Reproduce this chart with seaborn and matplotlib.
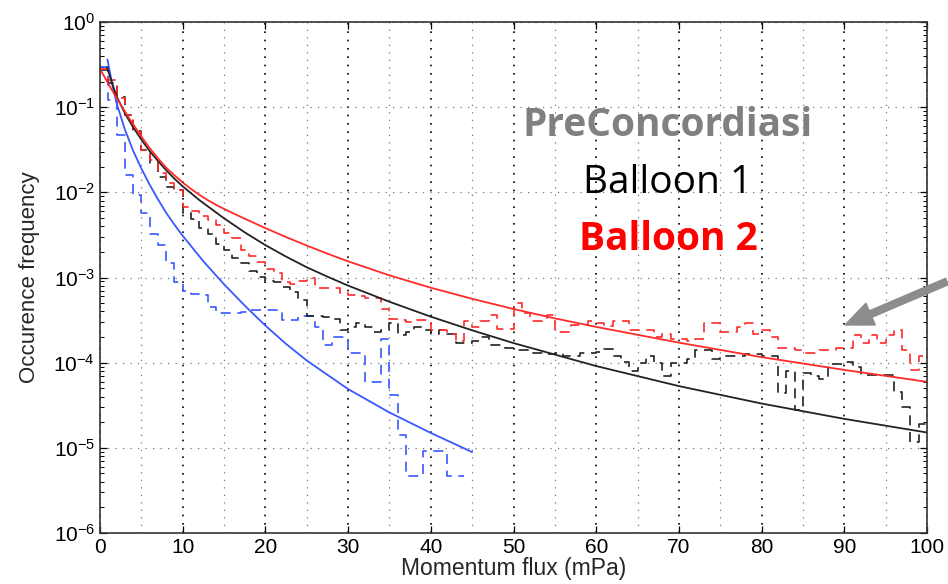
import numpy as np
import pandas as pd
import matplotlib
matplotlib.use("Agg")
import matplotlib.pyplot as plt
import seaborn as sns
from matplotlib.ticker import LogLocator, MultipleLocator, NullFormatter, LogFormatterSciNotation

# ---------------- data ----------------
# histogram bin values, bin width 1 mPa starting at 0
balloon2_hist = [0.28, 0.21, 0.127, 0.081, 0.0515, 0.031, 0.024, 0.0167, 0.013, 0.0106,
                 0.0068, 0.006, 0.0053, 0.0047, 0.0041, 0.0033, 0.0029, 0.0021, 0.0018, 0.00153,
                 0.00125, 0.00112, 0.00089, 0.00085, 0.0009, 0.001, 0.00075, 0.00075, 0.00075, 0.00065,
                 0.00062, 0.0006, 0.00057, 0.00057, 0.00043, 0.00033, 3.2e-4, 3.0e-4, 3.2e-4, 3.2e-4,
                 2.4e-4, 2.4e-4, 2.2e-4, 1.8e-4, 3.1e-4, 2.6e-4, 3.1e-4, 3.6e-4, 2.5e-4, 2.5e-4,
                 5.0e-4, 3.8e-4, 3.1e-4, 3.1e-4, 3.6e-4, 2.3e-4, 2.3e-4, 2.8e-4, 2.8e-4, 3.1e-4,
                 2.9e-4, 2.7e-4, 3.1e-4, 3.1e-4, 2.4e-4, 2.4e-4, 2.4e-4, 2.0e-4, 2.2e-4, 1.9e-4,
                 1.9e-4, 1.8e-4, 1.9e-4, 2.9e-4, 2.9e-4, 2.3e-4, 2.3e-4, 2.6e-4, 2.9e-4, 2.2e-4,
                 2.4e-4, 2.0e-4, 1.5e-4, 1.5e-4, 1.4e-4, 1.3e-4, 1.3e-4, 1.4e-4, 1.4e-4, 1.5e-4,
                 1.5e-4, 2.1e-4, 1.7e-4, 2.1e-4, 1.7e-4, 2.1e-4, 2.4e-4, 1.4e-4, 8.2e-5, 1.2e-4]

balloon1_hist = [0.27, 0.19, 0.13, 0.08, 0.053, 0.031, 0.022, 0.0153, 0.0117, 0.0106,
                 0.0057, 0.0048, 0.0038, 0.0032, 0.0025, 0.0021, 0.0017, 0.00147, 0.0012, 0.00102,
                 9.2e-4, 8.9e-4, 7.8e-4, 6.8e-4, 5.5e-4, 3.5e-4, 3.5e-4, 3.4e-4, 3.3e-4, 2.4e-4,
                 2.6e-4, 2.9e-4, 2.6e-4, 2.3e-4, 2.4e-4, 2.9e-4, 2.1e-4, 2.3e-4, 2.6e-4, 2.4e-4,
                 2.2e-4, 2.4e-4, 2.2e-4, 1.7e-4, 1.7e-4, 1.8e-4, 2.0e-4, 1.6e-4, 1.6e-4, 1.5e-4,
                 1.4e-4, 1.4e-4, 1.3e-4, 1.3e-4, 1.26e-4, 1.3e-4, 1.2e-4, 1.2e-4, 1.3e-4, 1.3e-4,
                 1.35e-4, 1.43e-4, 1.2e-4, 1.03e-4, 8e-5, 1.0e-4, 1.2e-4, 1.0e-4, 7e-5, 1.0e-4,
                 1.0e-4, 1.1e-4, 1.4e-4, 1.4e-4, 1.1e-4, 1.2e-4, 1.2e-4, 1.2e-4, 1.25e-4, 1.25e-4,
                 1.2e-4, 1.2e-4, 4.4e-5, 8e-5, 2.8e-5, 7.5e-5, 7e-5, 6.4e-5, 9.6e-5, 9.6e-5,
                 1.03e-4, 9e-5, 7.1e-5, 7.1e-5, 7.1e-5, 7.1e-5, 4.5e-5, 3e-5, 1.18e-5, 1.9e-5]

preconc_hist = [0.3, 0.12, 0.047, 0.016, 0.0093, 0.0057, 0.0032, 0.0024, 0.0015, 8.8e-4,
                7e-4, 6.4e-4, 6.2e-4, 4.5e-4, 3.8e-4, 3.8e-4, 3.8e-4, 3.9e-4, 4.1e-4, 4.1e-4,
                4.1e-4, 4.1e-4, 3.2e-4, 3.2e-4, 3.5e-4, 3.5e-4, 2.6e-4, 1.6e-4, 2.0e-4, 2.0e-4,
                1.3e-4, 1.3e-4, 6e-5, 6e-5, 1.9e-4, 4.2e-5, 1.4e-5, 4.7e-6, 4.7e-6, 9.3e-6,
                9.3e-6, 9.3e-6, 4.7e-6, 4.7e-6]

# fitted curves: points (x in mPa, log10 of frequency)
balloon2_fit_x = [0, 1, 2, 3, 4, 5, 6, 7, 8, 9, 10, 11, 12, 13, 14, 15, 17.5, 20, 22.5, 25,
                  27.5, 30, 35, 40, 45, 50, 55, 60, 70, 80, 90, 100]
balloon2_fit_log = [-0.55, -0.725, -0.89, -1.05, -1.20, -1.345, -1.48, -1.60, -1.71, -1.80,
                    -1.885, -1.96, -2.028, -2.09, -2.145, -2.195, -2.31, -2.42, -2.525, -2.625,
                    -2.72, -2.81, -2.975, -3.12, -3.25, -3.37, -3.48, -3.58, -3.765, -3.935,
                    -4.085, -4.225]
balloon1_fit_x = [0.85, 1.5, 2, 3, 4, 5, 6, 7, 8, 9, 10, 12, 15, 17.5, 20, 22.5, 25, 27.5,
                  30, 35, 40, 45, 50, 60, 70, 80, 90, 100]
balloon1_fit_log = [-0.53, -0.73, -0.87, -1.07, -1.235, -1.38, -1.515, -1.63, -1.74, -1.84,
                    -1.93, -2.09, -2.305, -2.47, -2.62, -2.755, -2.88, -2.99, -3.095, -3.285,
                    -3.46, -3.62, -3.77, -4.04, -4.275, -4.48, -4.66, -4.82]
preconc_fit_x = [0.9, 1.5, 2, 3, 4, 5, 6, 7, 8, 9, 10, 12.5, 15, 17.5, 20, 22.5, 25, 30,
                 35, 40, 45]
preconc_fit_log = [-0.44, -0.74, -0.95, -1.26, -1.51, -1.72, -1.91, -2.08, -2.24, -2.38,
                   -2.51, -2.81, -3.08, -3.33, -3.565, -3.78, -3.975, -4.31, -4.585, -4.825,
                   -5.05]

x_ticks = [0, 10, 20, 30, 40, 50, 60, 70, 80, 90, 100]
legend_labels = ["PreConcordiasi", "Balloon 1", "Balloon 2"]

# ---------------- styling ----------------
sns.set_theme(style="ticks")
plt.rcParams["font.family"] = ["Liberation Sans", "DejaVu Sans"]
plt.rcParams["mathtext.default"] = "regular"
plt.rcParams["xtick.direction"] = "in"
plt.rcParams["ytick.direction"] = "in"

RED = "#ff2a2a"
BLACK = "#222222"
BLUE = "#3a58ff"

fig = plt.figure(figsize=(9.48, 5.84), dpi=100)
ax = fig.add_axes([100 / 948, 51 / 584, 827 / 948, 511 / 584])


def step_frame(vals):
    edges = np.arange(len(vals) + 1)
    return pd.DataFrame({"x": edges, "y": list(vals) + [vals[-1]]})


dash = (0, (6, 4))
for vals, col in [(preconc_hist, BLUE), (balloon1_hist, BLACK), (balloon2_hist, RED)]:
    df = step_frame(vals)
    sns.lineplot(data=df, x="x", y="y", ax=ax, color=col, lw=1.2, estimator=None,
                 sort=False, drawstyle="steps-post", linestyle=dash)

for xs, ls, col in [(preconc_fit_x, preconc_fit_log, BLUE),
                    (balloon1_fit_x, balloon1_fit_log, BLACK),
                    (balloon2_fit_x, balloon2_fit_log, RED)]:
    df = pd.DataFrame({"x": xs, "y": np.power(10.0, ls)})
    sns.lineplot(data=df, x="x", y="y", ax=ax, color=col, lw=1.3, estimator=None, sort=False)

ax.set_yscale("log")
ax.set_xlim(0, 100)
ax.set_ylim(1e-6, 1)
ax.set_xticks(x_ticks)
ax.xaxis.set_minor_locator(MultipleLocator(5))
ax.yaxis.set_major_locator(LogLocator(base=10, numticks=10))
ax.yaxis.set_minor_locator(LogLocator(base=10, subs=np.arange(2, 10), numticks=20))
ax.yaxis.set_minor_formatter(NullFormatter())
ax.yaxis.set_major_formatter(LogFormatterSciNotation())

ax.tick_params(which="both", top=True, right=True, colors="black", labelsize=15)
ax.tick_params(which="major", length=5, width=0.9)
ax.tick_params(which="minor", length=3, width=0.7)
ax.tick_params(axis="x", which="minor", length=0)

ax.grid(False)
ax.xaxis.grid(True, which="major", linestyle=(0, (1, 4)), color="black", lw=1.2)
ax.xaxis.grid(True, which="minor", linestyle=(0, (1, 5)), color="#777777", lw=0.9)
ax.yaxis.grid(True, which="major", linestyle=(0, (1, 5)), color="#777777", lw=0.9)
ax.set_axisbelow(True)

for s in ax.spines.values():
    s.set_color("#333333")
    s.set_linewidth(1.2)

ax.set_xlabel("Momentum flux (mPa)", fontsize=16.5, labelpad=0)
ax.set_ylabel("Occurence frequency", fontsize=16, labelpad=10)

# annotation labels
fam = ["Open Sans", "DejaVu Sans"]
fig.text(668 / 948, 1 - 125 / 584, legend_labels[0], color="#808080", fontsize=28,
         fontweight="bold", ha="center", va="center", family=fam)
fig.text(668 / 948, 1 - 183 / 584, legend_labels[1], color="black", fontsize=28,
         ha="center", va="center", family=fam)
fig.text(668 / 948, 1 - 240 / 584, legend_labels[2], color="#ff0000", fontsize=28,
         fontweight="bold", ha="center", va="center", family=fam)

# gray arrow (starts at the right edge of the figure)
ax.annotate("", xy=(845, 584 - 325), xycoords="figure pixels",
            xytext=(947, 584 - 281.5), textcoords="figure pixels",
            arrowprops=dict(facecolor="#8c8c8c", edgecolor="#8c8c8c", width=5,
                            headwidth=17, headlength=20, shrinkA=0, shrinkB=0),
            annotation_clip=False)

fig.savefig("out.png", dpi=100)
